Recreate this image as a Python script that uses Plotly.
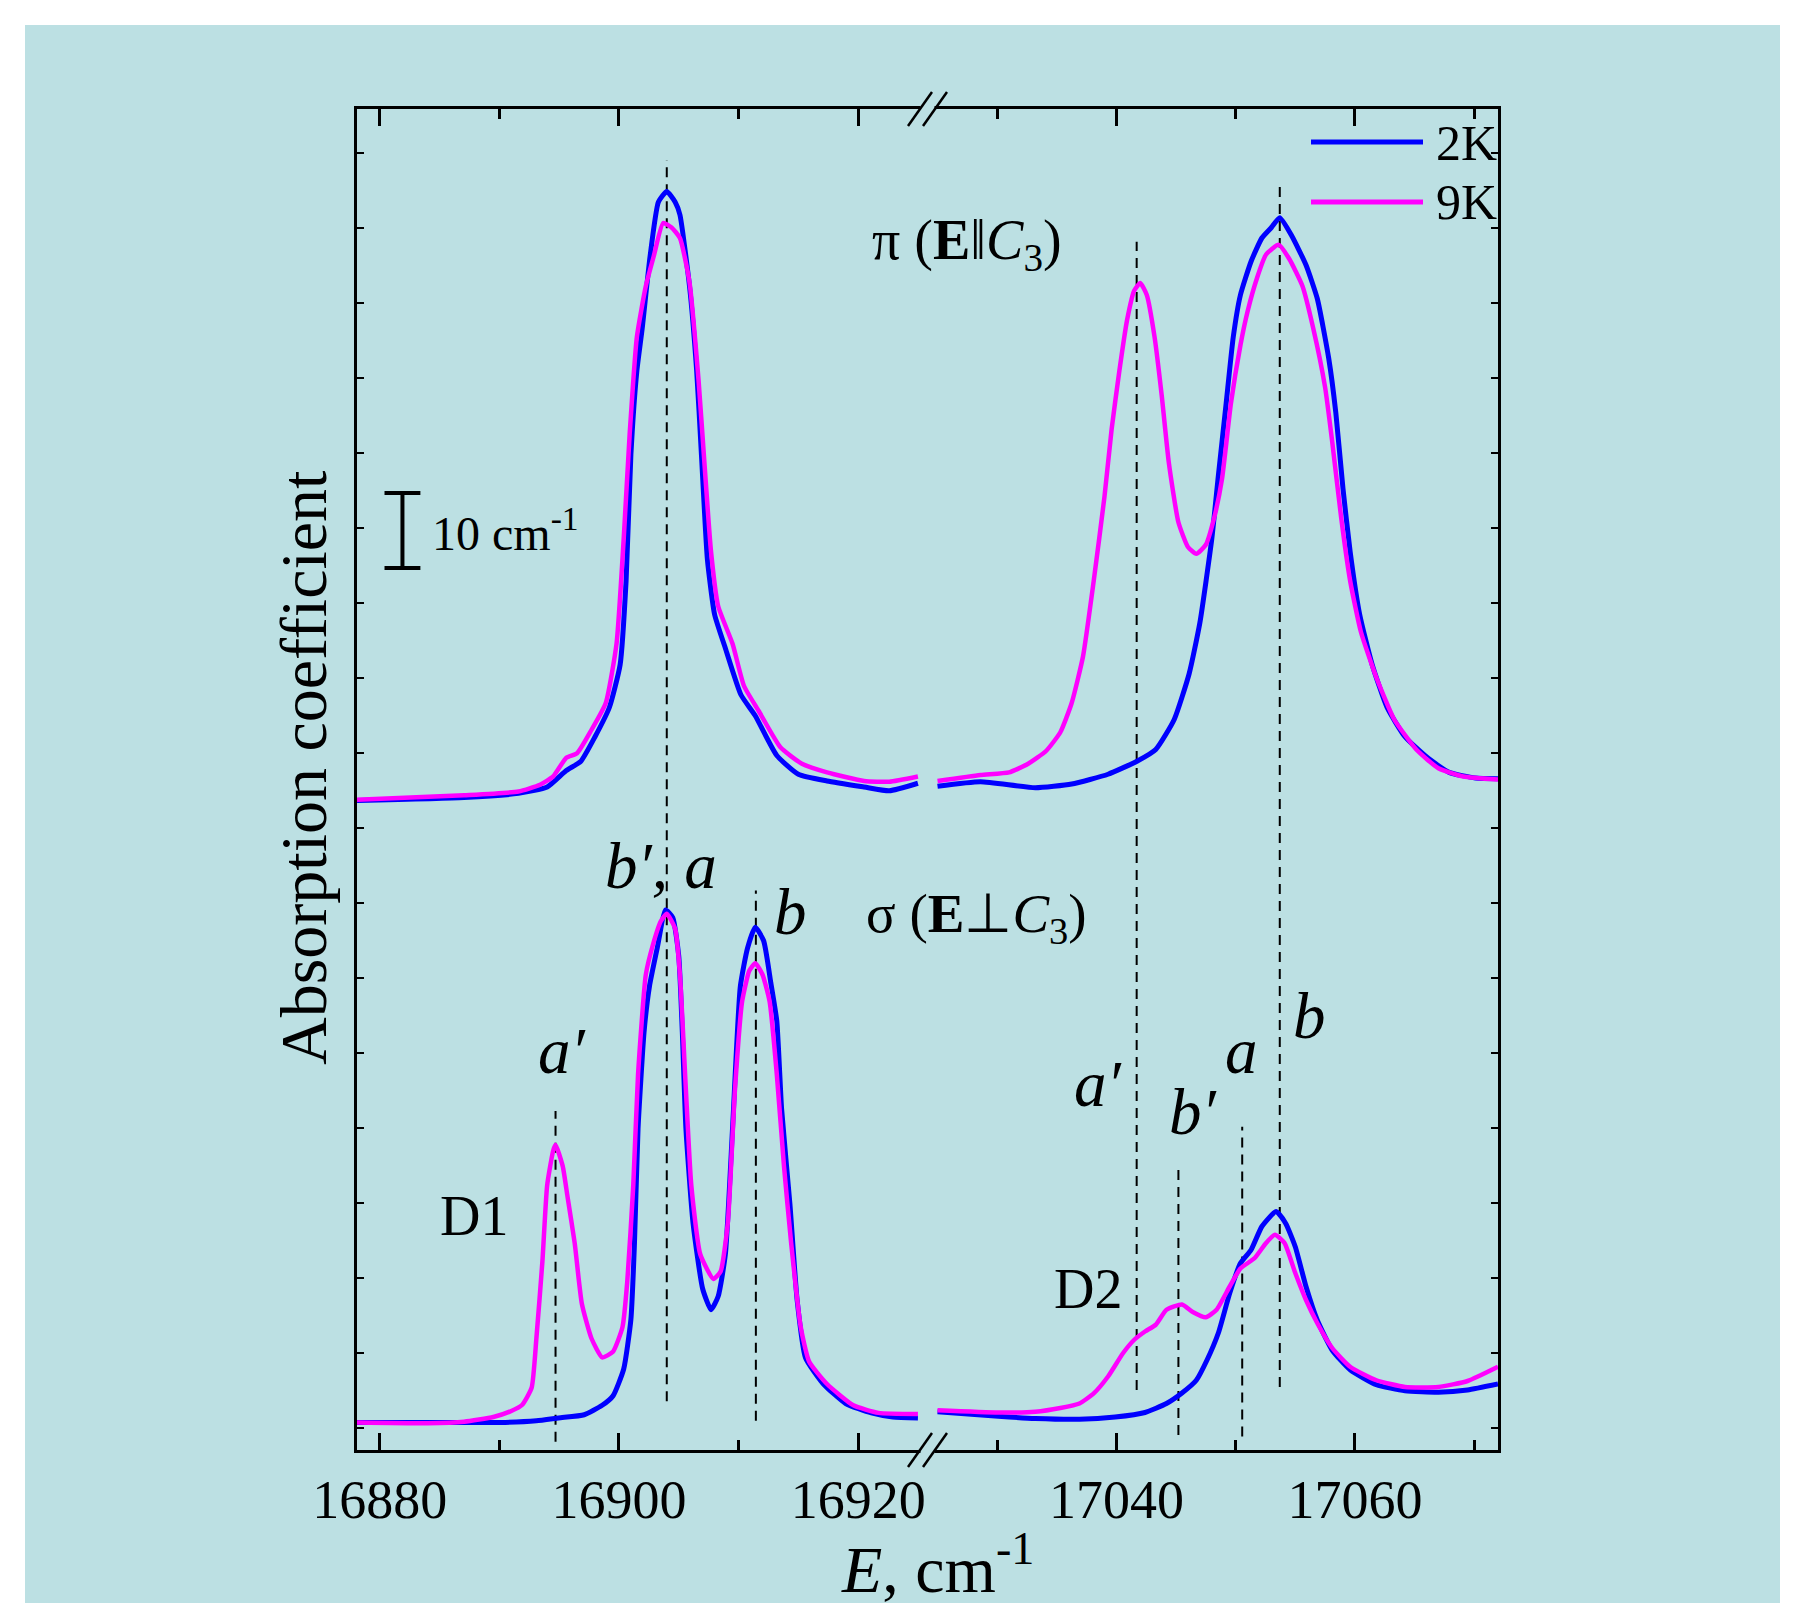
import plotly.graph_objects as go

# ---------------- data ----------------
# pi polarisation, left window
pi_left_2K_E = [16878.1, 16887.05, 16891.6, 16894.0, 16895.6, 16896.8, 16898.0, 16899.2, 16900.1, 16900.6,
                16901.0, 16901.5, 16901.95, 16902.6, 16903.3, 16904.0, 16904.7, 16905.1, 16905.9, 16906.5,
                16906.9, 16907.4, 16908.0, 16908.9, 16910.2, 16911.4, 16913.2, 16915.0, 16917.4, 16920.5,
                16922.6, 16925.0]
pi_left_2K = [86.6, 87.0, 87.55, 88.4, 90.6, 91.8, 95.1, 99.0, 104.7, 115.9,
              132.7, 143.9, 149.6, 159.1, 166.4, 167.8, 166.4, 164.7, 155.2, 143.9,
              132.7, 118.7, 111.4, 106.9, 100.7, 97.9, 92.6, 90.1, 89.2, 88.4,
              87.9, 88.9]
pi_left_9K_E = [16878.1, 16887.05, 16891.6, 16893.4, 16894.5, 16895.6, 16896.5, 16897.7, 16898.9, 16899.8,
                16900.4, 16900.9, 16901.5, 16902.25, 16902.9, 16903.7, 16904.4, 16905.1, 16905.9, 16906.65,
                16907.1, 16907.7, 16908.3, 16909.5, 16910.45, 16911.7, 16913.5, 16915.3, 16917.4, 16920.5,
                16922.6, 16925.0]
pi_left_9K = [86.7, 87.3, 87.8, 88.7, 89.8, 92.3, 92.9, 96.0, 99.6, 107.5,
              121.5, 135.5, 148.4, 155.2, 159.1, 163.6, 163.0, 161.6, 155.7, 142.8,
              132.7, 119.8, 112.5, 107.5, 101.9, 98.5, 93.7, 91.5, 90.35, 89.2,
              89.1, 89.8]

# pi polarisation, right window
pi_right_2K_E = [17025.0, 17028.6, 17033.2, 17036.25, 17039.3, 17041.8, 17043.3, 17044.85, 17046.1, 17047.0,
                 17048.0, 17048.55, 17049.2, 17049.8, 17050.4, 17051.3, 17052.2, 17053.0, 17053.7, 17054.7,
                 17055.9, 17056.85, 17057.8, 17058.4, 17059.0, 17059.6, 17060.4, 17061.45, 17062.7, 17064.2,
                 17066.1, 17067.9, 17070.1, 17072.0]
pi_right_2K = [88.5, 89.1, 88.3, 88.8, 90.1, 91.9, 93.4, 97.4, 103.5, 110.3,
               121.5, 129.9, 139.5, 148.4, 154.0, 158.5, 161.6, 163.0, 164.3, 161.9,
               158.0, 153.5, 145.6, 138.3, 128.2, 119.8, 111.4, 104.7, 99.0, 95.1,
               92.3, 90.35, 89.6, 89.5]
pi_right_9K_E = [17025.0, 17028.6, 17031.0, 17032.6, 17034.1, 17035.3, 17036.25, 17037.2, 17038.1, 17039.0,
                 17039.6, 17040.25, 17040.9, 17041.5, 17042.0, 17042.55, 17043.2, 17043.8, 17044.4, 17045.2,
                 17046.0, 17046.7, 17047.5, 17048.2, 17048.85, 17049.6, 17050.4, 17051.0, 17051.8, 17052.55,
                 17053.6, 17054.5, 17055.6, 17056.5, 17057.5, 17058.1, 17058.85, 17059.6, 17060.5, 17061.8,
                 17063.3, 17065.15, 17067.0, 17069.1, 17072.0]
pi_right_9K = [89.2, 90.0, 90.35, 91.5, 93.2, 95.7, 99.6, 105.8, 115.9, 127.1,
               136.1, 143.9, 150.7, 154.6, 155.6, 154.0, 148.4, 140.6, 131.6, 123.7,
               120.4, 119.5, 120.7, 124.3, 129.4, 139.5, 147.3, 151.8, 156.3, 159.4,
               160.7, 158.8, 155.2, 149.6, 141.7, 134.4, 124.3, 115.9, 109.1, 103.0,
               97.4, 93.4, 90.9, 89.8, 89.4]

# sigma polarisation, left window
sig_left_2K_E = [16878.1, 16884.0, 16890.1, 16893.1, 16894.95, 16897.1, 16898.6, 16899.5, 16900.4, 16901.0,
                 16901.3, 16901.6, 16902.1, 16902.55, 16903.2, 16903.9, 16904.5, 16905.0, 16905.3, 16905.6,
                 16906.2, 16907.0, 16907.7, 16908.3, 16908.9, 16909.5, 16910.15, 16910.75, 16911.4, 16912.1,
                 16912.7, 16913.2, 16913.6, 16914.3, 16914.9, 16915.6, 16917.1, 16918.96, 16921.1, 16922.9,
                 16925.0]
sig_left_2K = [3.67, 3.67, 3.67, 3.9, 4.28, 4.7, 5.96, 7.2, 10.8, 17.4,
               27.6, 42.9, 55.7, 61.8, 66.9, 72.0, 71.0, 65.9, 55.7, 42.9,
               30.2, 21.5, 18.7, 20.5, 26.1, 42.9, 61.8, 66.9, 69.7, 67.9,
               62.3, 57.2, 45.5, 32.75, 20.0, 12.3, 8.8, 6.2, 4.95, 4.4,
               4.28]
sig_left_9K_E = [16878.1, 16884.0, 16887.05, 16889.5, 16891.0, 16891.9, 16892.7, 16893.1, 16893.6, 16894.0,
                 16894.5, 16894.7, 16895.3, 16895.7, 16896.3, 16896.9, 16897.7, 16898.6, 16899.5, 16900.3,
                 16900.7, 16901.2, 16901.6, 16902.25, 16902.85, 16903.5, 16904.0, 16904.7, 16905.1, 16905.6,
                 16906.05, 16906.8, 16907.9, 16908.5, 16909.1, 16909.7, 16910.3, 16910.9, 16911.4, 16912.0,
                 16912.6, 16913.2, 16913.8, 16914.4, 16915.2, 16915.9, 16917.4, 16919.6, 16921.7, 16925.0]
sig_left_9K = [3.67, 3.57, 3.77, 4.4, 5.2, 6.0, 8.3, 14.9, 25.1, 35.3,
               39.9, 40.7, 37.85, 33.8, 27.6, 19.5, 14.9, 12.35, 13.1, 16.4,
               22.5, 35.3, 50.1, 63.4, 67.4, 70.5, 71.5, 69.5, 63.4, 48.0,
               35.3, 26.1, 22.8, 23.8, 30.2, 48.0, 59.8, 63.9, 64.9, 63.4,
               59.8, 50.1, 37.85, 27.6, 16.4, 11.8, 8.8, 5.96, 4.95, 4.8]

# sigma polarisation, right window
sig_right_2K_E = [17025.0, 17030.1, 17033.2, 17036.9, 17039.9, 17042.4, 17044.2, 17045.5, 17046.7, 17047.6,
                  17048.55, 17049.5, 17050.4, 17051.3, 17052.2, 17053.4, 17054.2, 17055.0, 17055.9, 17056.85,
                  17058.1, 17059.6, 17061.8, 17064.2, 17067.0, 17069.45, 17072.0]
sig_right_2K = [5.1, 4.5, 4.2, 4.1, 4.4, 5.0, 6.2, 7.6, 9.3, 12.0,
                15.6, 20.9, 24.9, 26.7, 29.8, 31.8, 30.2, 27.1, 21.8, 17.3,
                13.3, 10.7, 8.7, 7.9, 7.7, 8.0, 8.8]
sig_right_9K_E = [17025.0, 17030.1, 17033.2, 17035.3, 17036.9, 17038.1, 17039.3, 17040.55, 17041.5, 17042.4,
                  17043.3, 17044.2, 17045.5, 17046.4, 17047.5, 17048.4, 17049.5, 17050.4, 17051.6, 17052.55,
                  17053.3, 17054.1, 17055.0, 17055.9, 17056.85, 17058.1, 17059.6, 17061.8, 17064.2, 17067.0,
                  17069.45, 17072.0]
sig_right_9K = [5.3, 5.0, 5.1, 5.6, 6.2, 7.55, 9.8, 12.9, 14.7, 15.8,
                16.7, 18.7, 19.4, 18.4, 17.7, 18.7, 21.8, 24.2, 25.6, 27.6,
                28.7, 27.6, 23.6, 20.0, 16.9, 13.6, 11.1, 9.3, 8.4, 8.4,
                9.2, 11.1]

# dashed guide lines (energy, bottom, top)
guide_left_E = [16894.7, 16904.0, 16911.45]
guide_left_y0 = [1.1, 6.5, 3.9]
guide_left_y1 = [45.2, 172.0, 74.6]
guide_right_E = [17041.7, 17045.2, 17050.55, 17053.7]
guide_right_y0 = [8.0, 2.0, 1.8, 8.4]
guide_right_y1 = [161.1, 38.0, 43.1, 168.9]

# axis ranges and ticks
x_left_range = [16878.1, 16925.8]
x_right_range = [17024.16, 17072.0]
y_range = [0, 178.8]
scale_bar = 10  # cm^-1

series_names = ["2K", "9K"]
series_colors = {"2K": "#0000ff", "9K": "#ff00ff"}
series_widths = {"2K": 5.0, "9K": 4.5}

# ---------------- layout helpers (window pixel coordinates) ----------------
W, H = 1797, 1603          # browser window
OFF = 8                    # default page margin in front of the figure
L, R, T, B = 357, 1498, 109, 1450   # plot area in window pixels
BG = "#bce0e3"
FONT = "Liberation Serif, Times New Roman, serif"


def px(xp):
    return (xp - L) / (R - L)


def py(yp):
    return (B - yp) / (B - T)


fig = go.Figure()


def add_curve(E, y, name, xa, ya):
    fig.add_trace(go.Scatter(
        x=E, y=y, mode="lines", name=name, xaxis=xa, yaxis=ya,
        line=dict(color=series_colors[name], width=series_widths[name], shape="spline", smoothing=0.5),
        hoverinfo="x+y+name", showlegend=False))


def add_guides(Es, y0s, y1s, xa, ya):
    gx, gy = [], []
    for e, a, b in zip(Es, y0s, y1s):
        gx += [e, e, None]
        gy += [a, b, None]
    fig.add_trace(go.Scatter(x=gx, y=gy, mode="lines", xaxis=xa, yaxis=ya,
                             line=dict(color="black", width=2, dash="10px,7px"),
                             hoverinfo="skip", showlegend=False))


add_guides(guide_left_E, guide_left_y0, guide_left_y1, "x", "y")
add_guides(guide_right_E, guide_right_y0, guide_right_y1, "x2", "y2")

add_curve(pi_left_2K_E, pi_left_2K, "2K", "x", "y")
add_curve(sig_left_2K_E, sig_left_2K, "2K", "x", "y")
add_curve(pi_right_2K_E, pi_right_2K, "2K", "x2", "y2")
add_curve(sig_right_2K_E, sig_right_2K, "2K", "x2", "y2")
add_curve(pi_left_9K_E, pi_left_9K, "9K", "x", "y")
add_curve(sig_left_9K_E, sig_left_9K, "9K", "x", "y")
add_curve(pi_right_9K_E, pi_right_9K, "9K", "x2", "y2")
add_curve(sig_right_9K_E, sig_right_9K, "9K", "x2", "y2")

xcommon = dict(showline=True, linecolor="black", linewidth=3, mirror="ticks",
               ticks="inside", ticklen=17, tickwidth=2.5, tickcolor="black", dtick=20,
               tickformat="d",
               minor=dict(ticks="inside", ticklen=10, tickwidth=2.5, tickcolor="black", dtick=10),
               showgrid=False, zeroline=False,
               tickfont=dict(family=FONT, size=54, color="black"))
ycommon = dict(range=y_range, showline=True, linecolor="black", linewidth=3,
               ticks="inside", ticklen=7, tickwidth=2, tickcolor="black", tick0=3, dtick=10,
               showticklabels=False, showgrid=False, zeroline=False)

fig.update_layout(
    width=W - OFF, height=H - OFF,
    margin=dict(l=L - OFF, r=W - R, t=T - OFF, b=H - B),
    paper_bgcolor=BG, plot_bgcolor=BG,
    showlegend=False,
    font=dict(family=FONT, color="black"),
    xaxis=dict(domain=[0, 0.5], range=x_left_range, anchor="y", tick0=16880, **xcommon),
    xaxis2=dict(domain=[0.5, 1], range=x_right_range, anchor="y2", tick0=17040, **xcommon),
    yaxis=dict(domain=[0, 1], anchor="x", side="left", **ycommon),
    yaxis2=dict(domain=[0, 1], anchor="x2", side="right", **ycommon),
)

shapes = []
# white frame outside the tinted panel
for x0, x1, y0, y1 in [(0, W, 0, 25), (0, 25, 0, H), (1780, W, 0, H)]:
    shapes.append(dict(type="rect", xref="paper", yref="paper", x0=px(x0), x1=px(x1), y0=py(y1), y1=py(y0),
                       fillcolor="white", line=dict(width=0), layer="above"))
# axis break marks
cb = L + 0.5 * (R - L)
for yb in (T, B):
    shapes.append(dict(type="rect", xref="paper", yref="paper", x0=px(cb - 7), x1=px(cb + 7),
                       y0=py(yb + 3), y1=py(yb - 3), fillcolor=BG, line=dict(width=0), layer="above"))
    for off in (-7.5, 7.5):
        shapes.append(dict(type="line", xref="paper", yref="paper",
                           x0=px(cb + off - 12), y0=py(yb + 17), x1=px(cb + off + 12), y1=py(yb - 17),
                           line=dict(color="black", width=2.5), layer="above"))
# 10 cm^-1 scale bar
sb_x, sb_y0 = 16881.9, 117.6
shapes.append(dict(type="line", xref="x", yref="y", x0=sb_x, x1=sb_x, y0=sb_y0, y1=sb_y0 + scale_bar,
                   line=dict(color="black", width=4)))
for yy in (sb_y0, sb_y0 + scale_bar):
    shapes.append(dict(type="line", xref="x", yref="y", x0=sb_x - 1.5, x1=sb_x + 1.5, y0=yy, y1=yy,
                       line=dict(color="black", width=4)))
# legend lines
for yl, name in [(142, "2K"), (202, "9K")]:
    shapes.append(dict(type="line", xref="paper", yref="paper", x0=px(1311), x1=px(1423), y0=py(yl), y1=py(yl),
                       line=dict(color=series_colors[name], width=5)))
fig.update_layout(shapes=shapes)


def ann(xp, yp, text, size, xanchor="center", angle=0):
    return dict(x=px(xp), y=py(yp), xref="paper", yref="paper", text=text, showarrow=False,
                font=dict(family=FONT, size=size, color="black"), xanchor=xanchor, yanchor="middle",
                textangle=angle)


annotations = [
    ann(303, 768, "Absorption coefficient", 66, angle=-90),
    ann(938, 1564, "<i>E</i>, cm<sup>-1</sup>", 66),
    ann(1434, 142.7, series_names[0], 50, xanchor="left"),
    ann(1434, 201.7, series_names[1], 50, xanchor="left"),
    ann(430, 530, "10 cm<sup>-1</sup>", 48, xanchor="left"),
    ann(870, 244, "π (<b>E</b>‖<i>C</i><sub>3</sub>)", 56, xanchor="left"),
    ann(864, 917, "σ (<b>E</b>⊥<i>C</i><sub>3</sub>)", 55, xanchor="left"),
    ann(661, 866, "<i>b′, a</i>", 65),
    ann(790, 912, "<i>b</i>", 65),
    ann(562, 1051, "<i>a′</i>", 65),
    ann(474, 1216, "D1", 56),
    ann(1088, 1289, "D2", 56),
    ann(1098, 1084, "<i>a′</i>", 65),
    ann(1193, 1112, "<i>b′</i>", 65),
    ann(1241, 1051, "<i>a</i>", 65),
    ann(1309, 1016, "<i>b</i>", 65),
]
fig.update_layout(annotations=annotations)

fig.write_html("out.html")
